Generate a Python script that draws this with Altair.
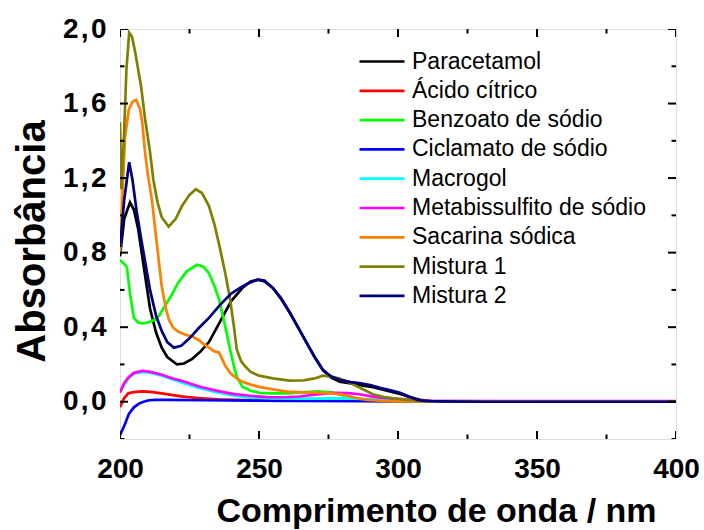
import altair as alt
import pandas as pd

series_names = ["Paracetamol", "Ácido cítrico", "Benzoato de sódio", "Ciclamato de sódio",
                "Macrogol", "Metabissulfito de sódio", "Sacarina sódica", "Mistura 1", "Mistura 2"]
colors = ["#000000", "#FF0000", "#00FF00", "#0000FF", "#00FFFF", "#FF00FF", "#FF8000", "#808000", "#000080"]

nm_par = [200, 201.5, 203.6, 205, 206.5, 208, 210.8, 213, 215, 217, 220.5, 223, 226, 229, 232, 236, 240, 244, 247,
          249.6, 252, 255, 258, 261, 264, 267, 270, 273, 276, 279, 283, 287, 291, 295, 300, 304, 308, 312, 320, 350, 400]
a_par = [0.78, 0.98, 1.07, 1.03, 0.93, 0.78, 0.50, 0.37, 0.29, 0.24, 0.20, 0.205, 0.23, 0.27, 0.32, 0.43, 0.54, 0.61,
         0.645, 0.655, 0.645, 0.61, 0.55, 0.48, 0.40, 0.32, 0.24, 0.17, 0.13, 0.108, 0.098, 0.088, 0.078, 0.063,
         0.045, 0.025, 0.01, 0.004, 0.002, 0.0, 0.0]

nm_cit = [200, 201.5, 203, 205, 208, 211, 215, 219, 222.7, 228, 235, 240.6, 250, 270, 290, 310, 400]
a_cit = [-0.03, 0.02, 0.045, 0.052, 0.055, 0.053, 0.045, 0.035, 0.027, 0.02, 0.013, 0.01, 0.007, 0.006, 0.004,
         0.002, 0.0]

nm_ben = [200, 201.5, 202.5, 203.6, 205, 206.5, 208, 210, 212.6, 214, 216, 218.5, 221, 224, 227.7, 230, 232, 234,
          235.6, 237, 238.5, 239.6, 241, 242, 244, 246.8, 250, 255, 260, 265, 271, 276, 280, 285, 290, 300, 400]
a_ben = [0.76, 0.74, 0.72, 0.58, 0.45, 0.425, 0.42, 0.425, 0.44, 0.46, 0.51, 0.57, 0.64, 0.70, 0.735, 0.725, 0.69,
         0.62, 0.55, 0.46, 0.36, 0.28, 0.19, 0.135, 0.08, 0.06, 0.048, 0.045, 0.045, 0.05, 0.055, 0.05, 0.035,
         0.015, 0.005, 0.002, 0.0]

nm_cic = [200, 201.8, 203.2, 205, 206.8, 208.5, 210.4, 213, 217, 230, 260, 300, 400]
a_cic = [-0.18, -0.12, -0.065, -0.03, -0.01, 0.0, 0.008, 0.01, 0.01, 0.008, 0.005, 0.003, 0.0]

nm_mac = [200, 201.5, 203, 205, 208, 211, 215, 219, 222.7, 228, 235, 241, 246.8, 255, 265, 280, 295, 305, 320, 400]
a_mac = [0.05, 0.09, 0.125, 0.15, 0.16, 0.155, 0.14, 0.12, 0.10, 0.075, 0.05, 0.033, 0.022, 0.018, 0.017, 0.018,
         0.012, 0.004, 0.001, 0.0]

nm_met = [200, 201.5, 203, 205, 208, 211, 215, 219, 222.7, 228.8, 235, 240.6, 246.8, 253, 259, 264.7, 270, 276.6,
          282, 286, 290, 293.5, 300, 306.8, 312, 400]
a_met = [0.05, 0.10, 0.13, 0.155, 0.165, 0.16, 0.145, 0.125, 0.11, 0.08, 0.058, 0.042, 0.032, 0.025, 0.024, 0.028,
         0.038, 0.048, 0.046, 0.04, 0.03, 0.022, 0.015, 0.008, 0.004, 0.003]

nm_sac = [200, 201, 201.8, 203.2, 204.5, 205.8, 207.2, 208, 209, 210, 211.5, 213, 215, 216.5, 217.6, 219, 221, 223.5,
          226, 228.4, 230, 232, 234, 235.6, 236.7, 238, 239.6, 242, 244, 247, 250, 255, 260, 266, 272, 276, 280, 285,
          289, 295, 300, 400]
a_sac = [0.80, 1.15, 1.42, 1.57, 1.61, 1.62, 1.57, 1.50, 1.34, 1.22, 1.08, 0.88, 0.62, 0.50, 0.44, 0.40, 0.375, 0.36,
         0.35, 0.33, 0.31, 0.29, 0.27, 0.265, 0.23, 0.19, 0.155, 0.125, 0.107, 0.092, 0.08, 0.066, 0.054, 0.05, 0.048,
         0.045, 0.038, 0.02, 0.01, 0.004, 0.002, 0.0]

nm_m1 = [200, 200.5, 201.5, 202.3, 203.3, 204.3, 205.4, 207.6, 209, 210.8, 212, 213.5, 215, 217.5, 220, 222.3, 225,
         227.3, 229.5, 232, 234, 236, 238, 239.6, 241, 242, 243.5, 245, 247, 250, 255, 261, 266, 270, 273, 276, 279,
         283, 287, 291, 295, 300, 305, 310, 320, 400]
a_m1 = [1.50, 1.14, 1.45, 1.78, 1.98, 1.96, 1.88, 1.69, 1.52, 1.34, 1.19, 1.07, 0.99, 0.94, 0.98, 1.05, 1.11, 1.14,
        1.12, 1.05, 0.95, 0.82, 0.68, 0.55, 0.40, 0.28, 0.22, 0.19, 0.16, 0.14, 0.125, 0.113, 0.115, 0.125, 0.14,
        0.135, 0.124, 0.10, 0.07, 0.04, 0.025, 0.015, 0.008, 0.003, 0.0, 0.0]

nm_m2 = [200, 201.5, 203.3, 204.5, 206, 208, 210.8, 213, 215, 217, 219.4, 222, 225, 228, 232, 236, 240, 243, 246,
         249.6, 252, 255, 258, 261, 264, 267, 270, 273, 276, 279, 283, 286, 290, 293.5, 297, 300.7, 304, 307, 310,
         315, 330, 400]
a_m2 = [0.83, 1.08, 1.285, 1.19, 1.02, 0.84, 0.60, 0.46, 0.38, 0.32, 0.29, 0.30, 0.34, 0.39, 0.45, 0.52, 0.58, 0.61,
        0.635, 0.655, 0.65, 0.61, 0.555, 0.48, 0.40, 0.32, 0.24, 0.17, 0.135, 0.118, 0.105, 0.10, 0.09, 0.075, 0.062,
        0.048, 0.028, 0.01, 0.004, 0.002, 0.0, 0.0]

nm_lists = [nm_par, nm_cit, nm_ben, nm_cic, nm_mac, nm_met, nm_sac, nm_m1, nm_m2]
a_lists = [a_par, a_cit, a_ben, a_cic, a_mac, a_met, a_sac, a_m1, a_m2]

x_major = [200, 250, 300, 350, 400]
x_minor = [225, 275, 325, 375]
y_major = [0.0, 0.4, 0.8, 1.2, 1.6, 2.0]
y_minor = [-0.2, 0.2, 0.6, 1.0, 1.4, 1.8]
x_domain = [200, 400]
y_domain = [-0.2, 2.0]

rows = []
for name, xs, ys in zip(series_names, nm_lists, a_lists):
    for xv, yv in zip(xs, ys):
        rows.append({"serie": name, "nm": xv, "A": yv})
df = pd.DataFrame(rows)

W, H = 556, 410
FONT = "Liberation Sans"
xscale = alt.Scale(domain=x_domain, nice=False, zero=False)
yscale = alt.Scale(domain=y_domain, nice=False, zero=False)

x_axis = alt.Axis(
    orient="bottom", values=x_major, format="d", ticks=False, domain=False, grid=False, labelFlush=False,
    labelFont=FONT, labelFontSize=28, labelFontWeight="bold", labelColor="black", labelPadding=16,
    title="Comprimento de onda / nm", titleFont=FONT, titleFontSize=34, titleFontWeight="bold",
    titleColor="black", titleBaseline="alphabetic", titleY=82, titleX=316)
y_axis = alt.Axis(
    orient="left", values=y_major,
    labelExpr="replace(format(datum.value, '.1f'), '.', '\u200a,\u200a')",
    ticks=False, domain=False, grid=False, labelFlush=False,
    labelFont=FONT, labelFontSize=28, labelFontWeight="bold", labelColor="black", labelPadding=14,
    title="Absorbância", titleFont=FONT, titleFontSize=40, titleFontWeight="bold", titleColor="black",
    titleBaseline="alphabetic", titleX=-76, titleY=212, titleAngle=270)

lines = alt.Chart(df).mark_line(strokeWidth=2.7, clip=True).encode(
    x=alt.X("nm:Q", scale=xscale, axis=x_axis),
    y=alt.Y("A:Q", scale=yscale, axis=y_axis),
    color=alt.Color("serie:N", scale=alt.Scale(domain=series_names, range=colors), legend=alt.Legend(
        orient="none", legendX=238, legendY=20, title=None, symbolType="stroke", symbolStrokeWidth=2.7,
        symbolSize=2025, labelFont=FONT, labelFontSize=23, labelColor="black", labelOffset=6, labelLimit=0,
        clipHeight=25, rowPadding=4.3, padding=0)),
)


def x_ticks(values, length, edge):
    d = pd.DataFrame({"nm": values})
    return alt.Chart(d).mark_tick(orient="vertical", size=length, thickness=2, color="black", clip=True,
                                  opacity=1).encode(
        x=alt.X("nm:Q", scale=xscale, axis=None),
        y=alt.YDatum(edge, scale=yscale, axis=None),
    )


def y_ticks(values, length, edge):
    d = pd.DataFrame({"A": values})
    return alt.Chart(d).mark_tick(orient="horizontal", size=length, thickness=2, color="black", clip=True,
                                  opacity=1).encode(
        y=alt.Y("A:Q", scale=yscale, axis=None),
        x=alt.XDatum(edge, scale=xscale, axis=None),
    )


tick_layers = []
for edge in y_domain:
    tick_layers.append(x_ticks(x_major, 16, edge))
    tick_layers.append(x_ticks(x_minor, 9, edge))
for edge in x_domain:
    tick_layers.append(y_ticks(y_major, 16, edge))
    tick_layers.append(y_ticks(y_minor, 9, edge))

chart = alt.layer(lines, *tick_layers).resolve_axis(x="independent", y="independent").properties(
    width=W, height=H, autosize=alt.AutoSizeParams(type="none"),
    padding={"left": 120, "top": 29, "right": 28, "bottom": 91},
).configure_view(stroke="black", strokeWidth=2).configure(background="white")

chart.save("out.html", embed_options={"renderer": "svg", "actions": False})
